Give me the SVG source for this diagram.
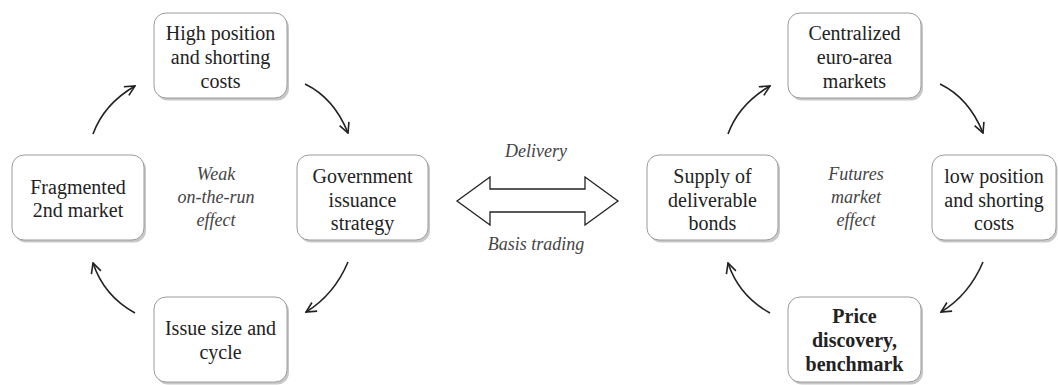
<svg xmlns="http://www.w3.org/2000/svg" width="1058" height="385" viewBox="0 0 1058 385" font-family="Liberation Serif, serif">
<style>
text{font-family:"Liberation Serif",serif !important}
</style>
<defs>
<marker id="ah" viewBox="0 0 12 12" refX="11" refY="6" markerWidth="12" markerHeight="12" markerUnits="userSpaceOnUse" orient="auto">
<path d="M1,1 L11,6 L1,11" fill="none" stroke="#222" stroke-width="1.6"/>
</marker>
</defs>
<rect width="1058" height="385" fill="#fff"/>
<g fill="#222" text-anchor="middle" font-size="20" font-family="Liberation Serif, serif">
<g id="n-high">
<rect x="156" y="15.5" width="133" height="85" rx="12" fill="#c8c8c8"/>
<rect x="154" y="13" width="133" height="85" rx="12" fill="#fff" stroke="#9a9a9a"/>
<text style="font-family:'Liberation Serif',serif !important" x="220.5" y="40">High position</text>
<text style="font-family:'Liberation Serif',serif !important" x="220.5" y="64">and shorting</text>
<text style="font-family:'Liberation Serif',serif !important" x="220.5" y="88">costs</text>
</g>
<g id="n-frag">
<rect x="14" y="157.5" width="132" height="85" rx="12" fill="#c8c8c8"/>
<rect x="12" y="155" width="132" height="85" rx="12" fill="#fff" stroke="#9a9a9a"/>
<text style="font-family:'Liberation Serif',serif !important" x="78" y="194">Fragmented</text>
<text style="font-family:'Liberation Serif',serif !important" x="78" y="217">2nd market</text>
</g>
<g id="n-gov">
<rect x="299" y="157.5" width="131" height="85" rx="12" fill="#c8c8c8"/>
<rect x="297" y="155" width="131" height="85" rx="12" fill="#fff" stroke="#9a9a9a"/>
<text style="font-family:'Liberation Serif',serif !important" x="362.5" y="183">Government</text>
<text style="font-family:'Liberation Serif',serif !important" x="362.5" y="207">issuance</text>
<text style="font-family:'Liberation Serif',serif !important" x="362.5" y="230">strategy</text>
</g>
<g id="n-issue">
<rect x="156" y="299.5" width="133" height="85" rx="12" fill="#c8c8c8"/>
<rect x="154" y="297" width="133" height="85" rx="12" fill="#fff" stroke="#9a9a9a"/>
<text style="font-family:'Liberation Serif',serif !important" x="220.5" y="335">Issue size and</text>
<text style="font-family:'Liberation Serif',serif !important" x="220.5" y="359">cycle</text>
</g>
<g id="n-central">
<rect x="790" y="15.5" width="133" height="85" rx="12" fill="#c8c8c8"/>
<rect x="788" y="13" width="133" height="85" rx="12" fill="#fff" stroke="#9a9a9a"/>
<text style="font-family:'Liberation Serif',serif !important" x="854.5" y="40">Centralized</text>
<text style="font-family:'Liberation Serif',serif !important" x="854.5" y="64">euro-area</text>
<text style="font-family:'Liberation Serif',serif !important" x="854.5" y="88">markets</text>
</g>
<g id="n-supply">
<rect x="649" y="157.5" width="131" height="85" rx="12" fill="#c8c8c8"/>
<rect x="647" y="155" width="131" height="85" rx="12" fill="#fff" stroke="#9a9a9a"/>
<text style="font-family:'Liberation Serif',serif !important" x="712.5" y="183">Supply of</text>
<text style="font-family:'Liberation Serif',serif !important" x="712.5" y="207">deliverable</text>
<text style="font-family:'Liberation Serif',serif !important" x="712.5" y="230">bonds</text>
</g>
<g id="n-low">
<rect x="933.5" y="157.5" width="124" height="85" rx="12" fill="#c8c8c8"/>
<rect x="932" y="155" width="124" height="85" rx="12" fill="#fff" stroke="#9a9a9a"/>
<text style="font-family:'Liberation Serif',serif !important" x="994" y="183">low position</text>
<text style="font-family:'Liberation Serif',serif !important" x="994" y="207">and shorting</text>
<text style="font-family:'Liberation Serif',serif !important" x="994" y="230">costs</text>
</g>
<g id="n-price" font-weight="bold">
<rect x="790" y="299.5" width="133" height="85" rx="12" fill="#c8c8c8"/>
<rect x="788" y="297" width="133" height="85" rx="12" fill="#fff" stroke="#9a9a9a"/>
<text style="font-family:'Liberation Serif',serif !important" x="854.5" y="323">Price</text>
<text style="font-family:'Liberation Serif',serif !important" x="854.5" y="347">discovery,</text>
<text style="font-family:'Liberation Serif',serif !important" x="854.5" y="371">benchmark</text>
</g>
</g>
<g fill="#444" text-anchor="middle" font-size="18" font-style="italic" font-family="Liberation Serif, serif">
<g id="n-weak">
<text style="font-family:'Liberation Serif',serif !important" x="216" y="180">Weak</text>
<text style="font-family:'Liberation Serif',serif !important" x="216" y="203">on-the-run</text>
<text style="font-family:'Liberation Serif',serif !important" x="216" y="226">effect</text>
</g>
<g id="n-futures">
<text style="font-family:'Liberation Serif',serif !important" x="856" y="180">Futures</text>
<text style="font-family:'Liberation Serif',serif !important" x="856" y="203">market</text>
<text style="font-family:'Liberation Serif',serif !important" x="856" y="226">effect</text>
</g>
<g id="n-link">
<polygon points="457,201 490,177 490,189 585,189 585,177 618,201 585,225 585,212 490,212 490,225" fill="#fff" stroke="#222" stroke-width="1.3"/>
<text style="font-family:'Liberation Serif',serif !important" x="536" y="157">Delivery</text>
<text style="font-family:'Liberation Serif',serif !important" x="536" y="250">Basis trading</text>
</g>
</g>
<g id="connectors" fill="none" stroke="#222" stroke-width="1.6" marker-end="url(#ah)">
<path d="M93,134 Q104,104 135,86"/>
<path d="M305,84 Q334,98 348,133"/>
<path d="M348,262 Q334,295 306,312"/>
<path d="M135,313 Q104,296 93,263"/>
<path d="M728,134 Q739,104 770,86"/>
<path d="M940,84 Q969,98 983,133"/>
<path d="M983,262 Q969,295 941,312"/>
<path d="M770,313 Q739,296 728,263"/>
</g>
</svg>
